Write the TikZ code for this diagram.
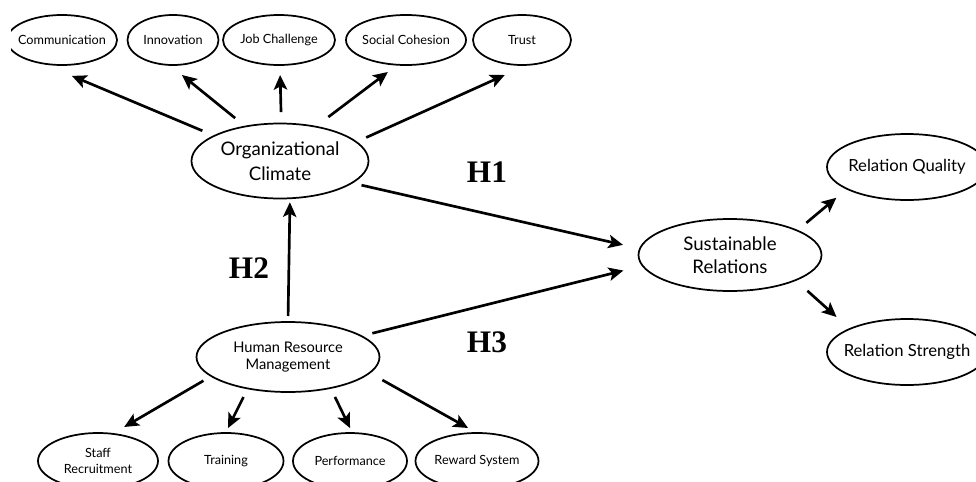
\documentclass[tikz,border=0pt]{standalone}
\usepackage{fontspec}
\newfontfamily\gill{Lato}
\newfontfamily\hyfont{Liberation Serif}
\usetikzlibrary{shapes.geometric, arrows.meta}

\tikzset{
  var/.style={draw, ellipse, line width=1.3pt, inner xsep=-12pt, inner ysep=0pt, outer sep=0pt, align=center},
  small/.style={var, minimum height=37.5pt, font=\gill\fontsize{9.5}{12}\selectfont},
  low/.style={var, minimum height=42pt, font=\gill\fontsize{9.5}{12}\selectfont},
  arr/.style={line width=2pt, -{Stealth[length=11pt, width=10pt, inset=2.5pt]}},
  hyp/.style={font=\hyfont\bfseries\fontsize{23.5}{24}\selectfont}
}

\begin{document}
\begin{tikzpicture}[x=0.75pt, y=-0.75pt]
\useasboundingbox (0,0) rectangle (976,482);
\clip (11,0) rectangle (976,482);

% Draw climate dimensions (top)
\node [small, minimum width=82.5pt] (comm) at (62,40) {Communication};
\node [small, minimum width=68.25pt] (innov) at (173,40) {Innovation};
\node [small, minimum width=84pt] (job) at (279,40) {Job Challenge};
\node [small, minimum width=90pt] (social) at (406,40) {Social Cohesion};
\node [small, minimum width=73.5pt] (trust) at (522,40) {Trust};

% Draw main constructs
\node [var, minimum width=132.75pt, minimum height=56.25pt, font=\gill\fontsize{14}{18.5}\selectfont] (oc) at (280,161) {Organizational\\Climate};
\node [var, minimum width=137.25pt, minimum height=52.5pt, font=\gill\fontsize{11}{13}\selectfont] (hrm) at (288,357) {Human Resource\\Management};
\node [var, minimum width=137.25pt, minimum height=54pt, font=\gill\fontsize{14}{17}\selectfont] (sr) at (730,255) {Sustainable\\Relations};

% Draw relation dimensions (right)
\node [var, minimum width=120pt, minimum height=49.5pt, font=\gill\fontsize{12.5}{15}\selectfont] (rq) at (907,167) {Relation Quality};
\node [var, minimum width=120pt, minimum height=49.5pt, font=\gill\fontsize{12.5}{15}\selectfont] (rs) at (907,352) {Relation Strength};

% Draw HRM practices (bottom)
\node [low, minimum width=90pt] (staff) at (98,461) {Staff\\Recruitment};
\node [low, minimum width=86.25pt] (training) at (226,461) {Training};
\node [low, minimum width=85.5pt] (perf) at (350,461) {Performance};
\node [low, minimum width=92.25pt] (reward) at (477,461) {Reward System};

% Draw hypotheses
\node [hyp] (h1) at (487,172) {H1};
\node [hyp] (h2) at (249,268) {H2};
\node [hyp] (h3) at (487,342) {H3};

% Arrows to climate dimensions
\draw [arr, shorten <=9.8pt, shorten >=24.5pt] (oc.159) -- (comm.229);
\draw [arr, shorten <=10pt, shorten >=12pt] (oc.135) -- (innov.262);
\draw [arr, shorten <=8.6pt, shorten >=7.5pt] (oc.88) -- (job.272);
\draw [arr, shorten <=12pt, shorten >=9pt] (oc.44) -- (social.251);
\draw [arr, shorten <=8.2pt, shorten >=18.5pt] (oc.14) -- (trust.282);

% Hypotheses arrows
\draw [arr, shorten <=7.5pt, shorten >=13pt] (oc.343) -- (sr.176);
\draw [arr, shorten <=4.5pt, shorten >=3pt] (hrm.90) -- (oc.285);
\draw [arr, shorten <=8.6pt, shorten >=14.9pt] (hrm.16) -- (sr.187);

% Arrows to relation dimensions
\draw [arr, shorten <=9pt, shorten >=10.4pt] (sr.20) -- (rq.200);
\draw [arr, shorten <=12pt, shorten >=13.4pt] (sr.339) -- (rs.158);

% Arrows to HRM practices
\draw [arr, shorten <=6.9pt, shorten >=10.2pt] (hrm.194) -- (staff.62);
\draw [arr, shorten <=7.2pt, shorten >=4.1pt] (hrm.218) -- (training.91);
\draw [arr, shorten <=7.5pt, shorten >=4.1pt] (hrm.324) -- (perf.85);
\draw [arr, shorten <=11pt, shorten >=7.7pt] (hrm.349) -- (reward.90);
\end{tikzpicture}
\end{document}
